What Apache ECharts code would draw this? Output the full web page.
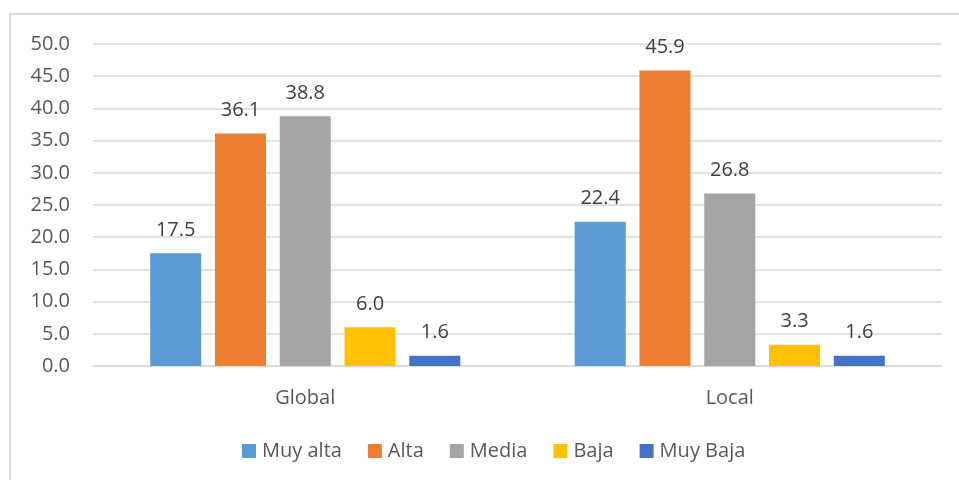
<!DOCTYPE html>
<html>
<head>
<meta charset="utf-8">
<script src="https://cdn.jsdelivr.net/npm/echarts@6/dist/echarts.min.js"></script>
<style>
  html, body { margin: 0; padding: 0; background: #fff; }
  #chart { width: 959px; height: 480px; }
</style>
</head>
<body>
<div id="chart"></div>
<script>
// categories and series
var categories = ['Global', 'Local']
var seriesNames = ['Muy alta', 'Alta', 'Media', 'Baja', 'Muy Baja']
var muyAlta = [17.5, 22.4]
var alta = [36.1, 45.9]
var media = [38.8, 26.8]
var baja = [6.0, 3.3]
var muyBaja = [1.6, 1.6]
var colors = ['#5B9BD5', '#ED7D31', '#A5A5A5', '#FFC000', '#4472C4']

var font = 'Open Sans, Liberation Sans, sans-serif'
var chart = echarts.init(document.getElementById('chart'))

function bar(name, data, color) {
  return {
    name: name,
    type: 'bar',
    data: data,
    barWidth: 51,
    barGap: '27%',
    itemStyle: { color: color },
    label: {
      show: true,
      position: 'top',
      distance: 13,
      color: '#404040',
      fontFamily: font,
      fontSize: 20,
      formatter: function (p) { return p.value.toFixed(1) }
    },
    animation: false
  }
}

chart.setOption({
  animation: false,
  color: colors,
  graphic: [{
    type: 'rect',
    shape: { x: 10, y: 14, width: 960, height: 480 },
    style: { fill: 'none', stroke: '#D9D9D9', lineWidth: 2 },
    silent: true
  }],
  grid: {
    left: 93,
    right: 17,
    top: 44,
    bottom: 114
  },
  legend: {
    bottom: 14,
    left: 237,
    itemWidth: 14,
    itemHeight: 14,
    itemGap: 26,
    icon: 'rect',
    textStyle: { color: '#595959', fontFamily: font, fontSize: 20, padding: [0, 0, 0, 1] },
    data: seriesNames
  },
  xAxis: {
    type: 'category',
    data: categories,
    axisTick: { show: false },
    axisLine: { lineStyle: { color: '#D9D9D9', width: 1.5 } },
    axisLabel: { color: '#595959', fontFamily: font, fontSize: 20, margin: 22 }
  },
  yAxis: {
    type: 'value',
    min: 0,
    max: 50,
    interval: 5,
    axisLine: { show: false },
    axisTick: { show: false },
    splitLine: { lineStyle: { color: '#D9D9D9', width: 1.5 } },
    axisLabel: {
      color: '#595959',
      fontFamily: font,
      fontSize: 20,
      margin: 23,
      formatter: function (v) { return v.toFixed(1) }
    }
  },
  series: [
    bar(seriesNames[0], muyAlta, colors[0]),
    bar(seriesNames[1], alta, colors[1]),
    bar(seriesNames[2], media, colors[2]),
    bar(seriesNames[3], baja, colors[3]),
    bar(seriesNames[4], muyBaja, colors[4])
  ]
})
</script>
</body>
</html>
